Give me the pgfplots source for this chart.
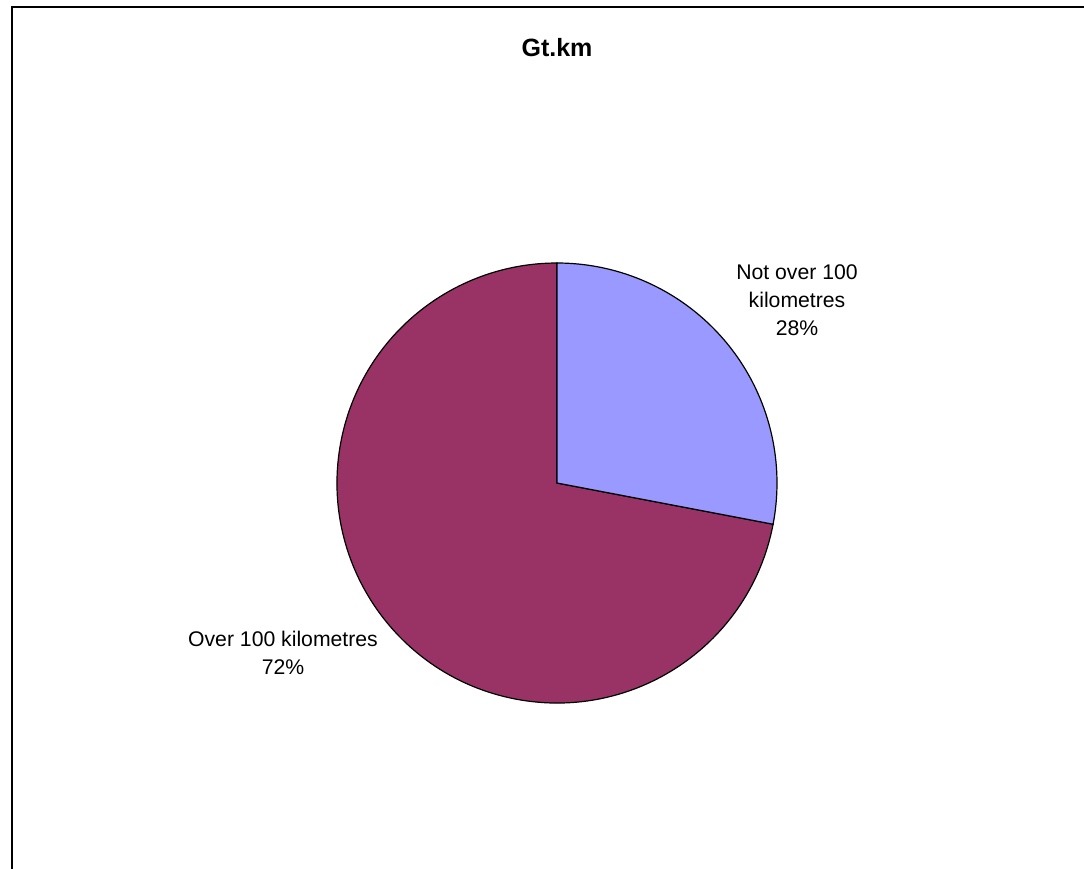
\documentclass[border=0pt]{standalone}
\usepackage{pgfplots}
\pgfplotsset{compat=1.18}
\usepackage{fontspec}
\setmainfont{Liberation Sans}
\definecolor{sliceA}{HTML}{9999FF}
\definecolor{sliceB}{HTML}{993366}
% data (percent)
\def\valA{28}% Not over 100 kilometres
\def\valB{72}% Over 100 kilometres
\begin{document}
\begin{tikzpicture}
\begin{axis}[
  at={(0,0)}, anchor=south west,
  scale only axis, width=542pt, height=434.5pt,
  xmin=0, xmax=1084, ymin=0, ymax=869, y dir=reverse,
  hide axis, clip=false,
]
\pgfmathsetmacro{\endA}{90-3.6*\valA}
\pgfmathsetmacro{\endB}{\endA-3.6*\valB}
% slices
\filldraw[fill=sliceB, draw=black, line width=0.6pt]
  (axis cs:557,483) -- ++(\endA:110pt) arc[start angle=\endA, end angle=\endB, radius=110pt] -- cycle;
\filldraw[fill=sliceA, draw=black, line width=0.6pt]
  (axis cs:557,483) -- ++(90:110pt) arc[start angle=90, end angle=\endA, radius=110pt] -- cycle;
% frame
\draw[line width=1pt, black] (axis cs:12,869) -- (axis cs:12,7) -- (axis cs:1084,7);
% title
\node[font=\fontsize{12.5}{15}\selectfont\bfseries] at (axis cs:557,48) {Gt.km};
% labels
\node[align=center, font=\fontsize{10.6}{14}\selectfont] at (axis cs:797,300)
  {Not over 100\\kilometres\\\valA\%};
\node[align=center, font=\fontsize{10.6}{14}\selectfont] at (axis cs:283,653)
  {Over 100 kilometres\\\valB\%};
\end{axis}
\pgfresetboundingbox
\path (0,0) rectangle (542pt,434.5pt);
\end{tikzpicture}
\end{document}
